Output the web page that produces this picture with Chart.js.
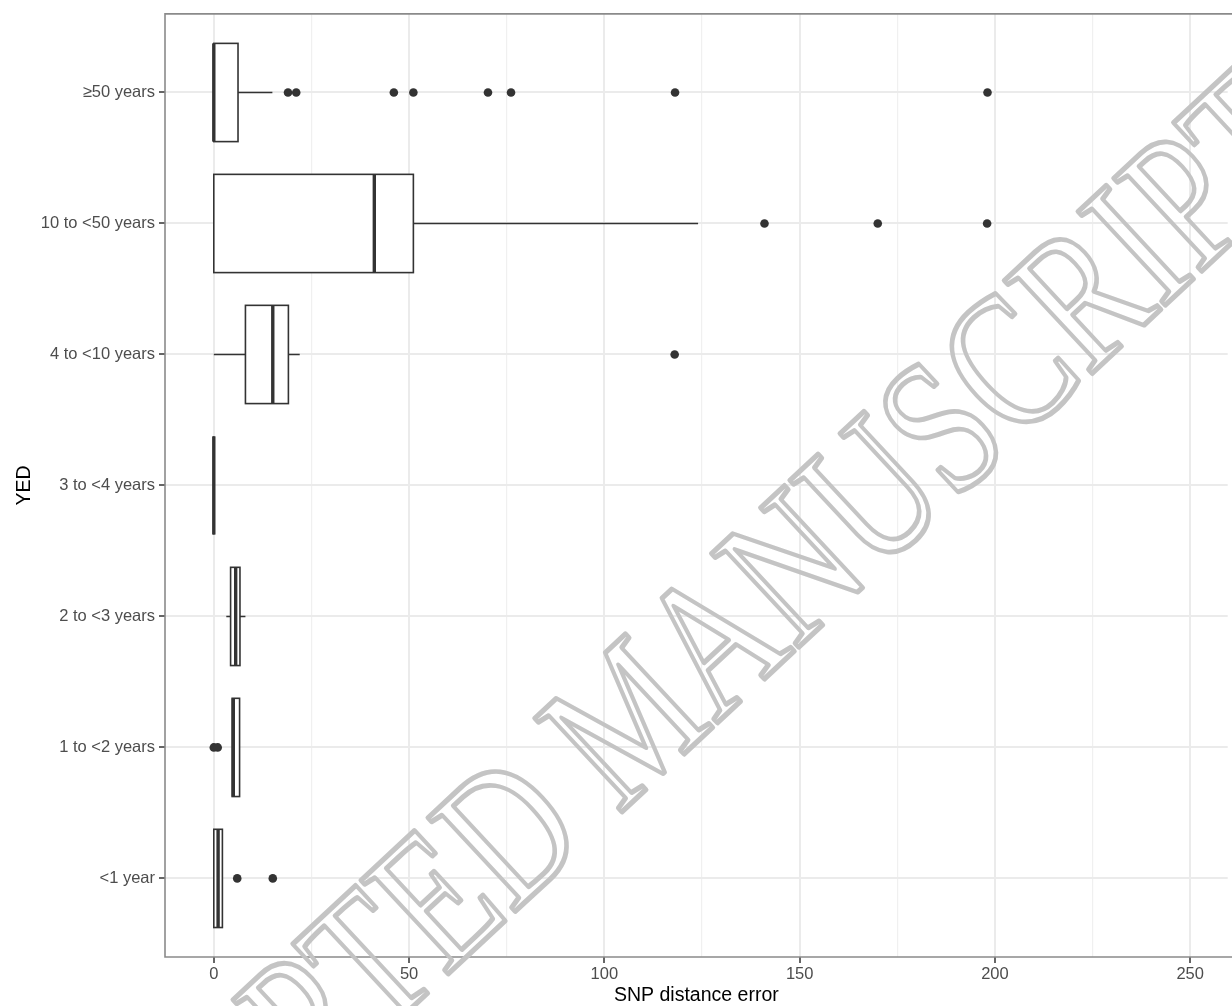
<!DOCTYPE html>
<html>
<head>
<meta charset="utf-8">
<script src="https://cdn.jsdelivr.net/npm/chart.js@4.4.1/dist/chart.umd.min.js"></script>
<style>
  html, body { margin: 0; padding: 0; background: #fff; overflow: hidden; }
  #wrap { width: 1232px; height: 1006px; position: relative; }
</style>
</head>
<body>
<div id="wrap"><canvas id="chart"></canvas></div>
<script>
// categories, bottom to top (y = 1..7)
var categories = ['<1 year', '1 to <2 years', '2 to <3 years', '3 to <4 years', '4 to <10 years', '10 to <50 years', '\u226550 years'];
// box stats per category
var whiskerLow  = [0,   4.7, 3.2, 0, 0,    0,    0];
var q1          = [0,   4.7, 4.3, 0, 8.1,  0,    0];
var median      = [1.1, 5.0, 5.6, 0, 15.1, 41.1, 0];
var q3          = [2.2, 6.6, 6.7, 0, 19.1, 51.1, 6.2];
var whiskerHigh = [2.2, 6.6, 8.1, 0, 22,   124,  15];
// outliers: category index + value
var outlierCat = [0, 0, 1, 1, 4, 5, 5, 5, 6, 6, 6, 6, 6, 6, 6, 6];
var outlierVal = [6.0, 15.1, 0, 1, 118, 141, 170, 198, 19, 21.1, 46.1, 51.1, 70.2, 76.1, 118.1, 198.1];
var xTicks = [0, 25, 50, 75, 100, 125, 150, 175, 200, 225, 250];

var lineCol = '#333333';
var fontFam = '"Liberation Sans", Arial, sans-serif';

var outlierPts = [];
for (var i = 0; i < outlierVal.length; i++) {
    outlierPts.push({ x: outlierVal[i], y: outlierCat[i] + 1 });
}

// boxes drawn from the stats arrays through the chart scales
const boxPlugin = {
    id: 'boxes',
    beforeDatasetsDraw(chart) {
        const ctx = chart.ctx;
        const xs = chart.scales.x, ys = chart.scales.y;
        const half = 0.375;
        ctx.save();
        ctx.strokeStyle = lineCol;
        for (var i = 0; i < categories.length; i++) {
            var yc = ys.getPixelForValue(i + 1);
            var yt = ys.getPixelForValue(i + 1 + half);
            var yb = ys.getPixelForValue(i + 1 - half);
            var xwl = xs.getPixelForValue(whiskerLow[i]);
            var xq1 = xs.getPixelForValue(q1[i]);
            var xm = xs.getPixelForValue(median[i]);
            var xq3 = xs.getPixelForValue(q3[i]);
            var xwh = xs.getPixelForValue(whiskerHigh[i]);
            // whiskers
            ctx.lineWidth = 1.6;
            ctx.beginPath();
            if (xwl < xq1) { ctx.moveTo(xwl, yc); ctx.lineTo(xq1, yc); }
            if (xwh > xq3) { ctx.moveTo(xq3, yc); ctx.lineTo(xwh, yc); }
            ctx.stroke();
            // box
            ctx.fillStyle = '#ffffff';
            ctx.fillRect(xq1, yt, xq3 - xq1, yb - yt);
            ctx.strokeRect(xq1, yt, xq3 - xq1, yb - yt);
            // median
            ctx.lineWidth = 3.4;
            ctx.beginPath();
            ctx.moveTo(xm, yt);
            ctx.lineTo(xm, yb);
            ctx.stroke();
        }
        ctx.restore();
    },
    afterDatasetsDraw(chart) {
        const ctx = chart.ctx;
        const a = chart.chartArea;
        ctx.save();
        ctx.strokeStyle = '#8a8a8a';
        ctx.lineWidth = 1.6;
        ctx.beginPath();
        ctx.moveTo(a.right + 5, a.top);
        ctx.lineTo(a.left, a.top);
        ctx.lineTo(a.left, a.bottom);
        ctx.lineTo(a.right + 5, a.bottom);
        ctx.stroke();
        ctx.restore();
    },
    afterDraw(chart) {
        // watermark
        const ctx = chart.ctx;
        ctx.save();
        ctx.translate(640, 725);
        ctx.rotate(-43 * Math.PI / 180);
        ctx.scale(1, 1.3);
        ctx.font = '150px "Liberation Serif", "DejaVu Serif", serif';
        ctx.textAlign = 'center';
        ctx.textBaseline = 'middle';
        ctx.strokeStyle = '#c4c4c4';
        ctx.lineWidth = 4;
        ctx.lineJoin = 'round';
        ctx.strokeText('ACCEPTED MANUSCRIPT', 0, 0);
        ctx.restore();
    }
};

new Chart(document.getElementById('chart'), {
    type: 'scatter',
    data: {
        datasets: [{
            label: 'outliers',
            data: outlierPts,
            pointRadius: 4.3,
            pointBackgroundColor: lineCol,
            pointBorderWidth: 0,
            showLine: false
        }]
    },
    options: {
        responsive: true,
        maintainAspectRatio: false,
        animation: false,
        events: [],
        layout: { padding: { top: 13, left: 0, right: 0, bottom: 0 } },
        plugins: {
            legend: { display: false },
            tooltip: { enabled: false }
        },
        scales: {
            x: {
                type: 'linear',
                min: -12.495,
                max: 259.6,
                afterBuildTicks: function (scale) {
                    scale.ticks = xTicks.map(v => ({ value: v }));
                },
                afterFit: function (scale) { scale.height = 49; },
                border: { display: false },
                grid: {
                    color: function (c) { return c.tick && c.tick.value % 50 === 0 ? '#EBEBEB' : '#F0F0F0'; },
                    lineWidth: function (c) { return c.tick && c.tick.value % 50 === 0 ? 2 : 1.2; },
                    tickColor: function (c) { return c.tick && c.tick.value % 50 === 0 ? lineCol : 'rgba(0,0,0,0)'; },
                    tickWidth: 1.5,
                    tickLength: 6,
                    drawTicks: true
                },
                ticks: {
                    autoSkip: false,
                    maxRotation: 0,
                    padding: 2,
                    color: '#4D4D4D',
                    font: { family: fontFam, size: 16.5 },
                    callback: function (v) { return v % 50 === 0 ? String(v) : ''; }
                },
                title: {
                    display: true,
                    text: 'SNP distance error',
                    color: '#000000',
                    font: { family: fontFam, size: 19.5, lineHeight: 1.1 },
                    padding: { top: 0, bottom: 0 }
                }
            },
            y: {
                type: 'linear',
                min: 0.4,
                max: 7.6,
                afterBuildTicks: function (scale) {
                    scale.ticks = categories.map((c, i) => ({ value: i + 1 }));
                },
                afterFit: function (scale) { scale.width = 165; },
                border: { display: false },
                grid: {
                    color: '#EBEBEB',
                    lineWidth: 2,
                    tickColor: lineCol,
                    tickWidth: 1.5,
                    tickLength: 6,
                    drawTicks: true
                },
                ticks: {
                    autoSkip: false,
                    padding: 4,
                    color: '#4D4D4D',
                    font: { family: fontFam, size: 16.5 },
                    callback: function (v) { return categories[Math.round(v) - 1]; }
                },
                title: {
                    display: true,
                    text: 'YED',
                    color: '#000000',
                    font: { family: fontFam, size: 19.5, lineHeight: 1.2 },
                    padding: { top: 13, bottom: 0 }
                }
            }
        }
    },
    plugins: [boxPlugin]
});
</script>
</body>
</html>
